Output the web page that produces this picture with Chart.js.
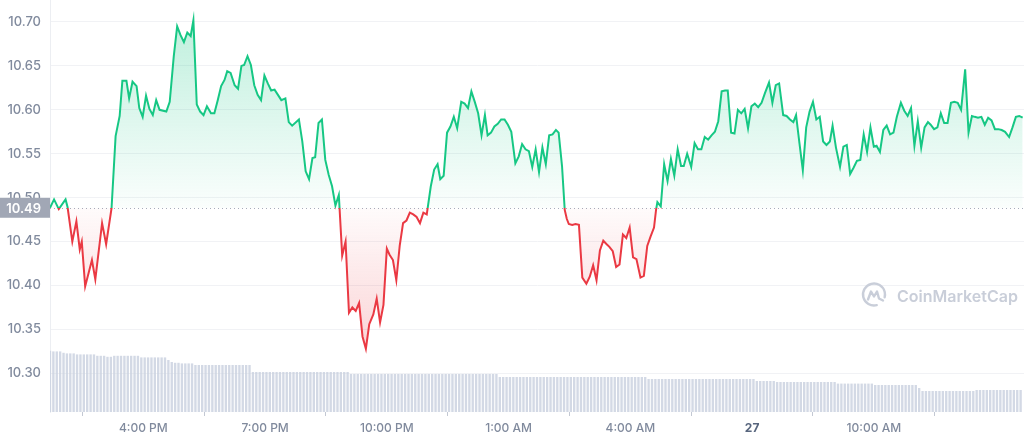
<!DOCTYPE html>
<html>
<head>
<meta charset="utf-8">
<script src="https://cdn.jsdelivr.net/npm/chart.js@4.4.1/dist/chart.umd.min.js"></script>
<style>
  html, body { margin: 0; padding: 0; background: #fff; }
  canvas { display: block; }
</style>
</head>
<body>
<canvas id="chart" width="1024" height="441"></canvas>
<script>
// time = minutes since 00:00 on the 26th (values past 1440 are on the 27th)
const priceTimes = [
  822, 828, 835, 845, 848, 855, 861, 866, 869, 874,
  884, 889, 899, 905, 913, 919, 925, 929, 935, 939,
  944, 950, 954, 959, 964, 969, 974, 979, 984, 994,
  999, 1005, 1010, 1015, 1020, 1025, 1030, 1034, 1039, 1044,
  1049, 1054, 1060, 1065, 1070, 1075, 1080, 1084, 1089, 1095,
  1100, 1105, 1109, 1114, 1119, 1124, 1129, 1134, 1139, 1144,
  1149, 1154, 1159, 1164, 1170, 1175, 1180, 1190, 1195, 1200,
  1205, 1210, 1214, 1219, 1224, 1229, 1234, 1239, 1244, 1249,
  1254, 1259, 1264, 1269, 1274, 1279, 1284, 1289, 1294, 1300,
  1305, 1310, 1315, 1320, 1324, 1329, 1334, 1339, 1344, 1349,
  1354, 1359, 1364, 1369, 1374, 1379, 1385, 1390, 1395, 1399,
  1404, 1409, 1414, 1419, 1424, 1430, 1435, 1440, 1445, 1450,
  1455, 1460, 1465, 1469, 1474, 1479, 1484, 1489, 1494, 1499,
  1504, 1510, 1515, 1520, 1525, 1530, 1535, 1540, 1545, 1550,
  1555, 1560, 1565, 1570, 1574, 1579, 1583, 1586, 1589, 1594,
  1599, 1604, 1609, 1615, 1620, 1625, 1630, 1635, 1640, 1645,
  1649, 1654, 1659, 1664, 1669, 1674, 1679, 1684, 1689, 1695,
  1700, 1705, 1710, 1715, 1718, 1720, 1725, 1730, 1735, 1740,
  1745, 1750, 1755, 1759, 1764, 1770, 1775, 1780, 1785, 1790,
  1795, 1800, 1805, 1810, 1815, 1820, 1824, 1829, 1834, 1839,
  1844, 1849, 1854, 1859, 1864, 1869, 1874, 1879, 1885, 1890,
  1895, 1900, 1906, 1911, 1916, 1921, 1925, 1930, 1935, 1940,
  1945, 1950, 1955, 1960, 1965, 1970, 1975, 1979, 1984, 1990,
  1995, 2000, 2005, 2010, 2015, 2020, 2025, 2030, 2035, 2040,
  2044, 2049, 2054, 2059, 2064, 2069, 2074, 2080, 2085, 2090,
  2095, 2100, 2105, 2110, 2115, 2120, 2124, 2129, 2134, 2139,
  2144, 2149, 2154, 2159, 2164, 2169, 2175, 2180, 2185, 2189,
  2194, 2199, 2204, 2209, 2214, 2219, 2224, 2229, 2234, 2240,
  2245, 2250, 2255, 2260
];

const prices = [
  10.4885, 10.498, 10.487, 10.498, 10.489, 10.450, 10.473, 10.441, 10.450, 10.399,
  10.429, 10.407, 10.471, 10.447, 10.488, 10.570, 10.593, 10.633, 10.633, 10.613,
  10.632, 10.627, 10.602, 10.592, 10.616, 10.601, 10.594, 10.611, 10.600, 10.598,
  10.609, 10.661, 10.695, 10.685, 10.677, 10.688, 10.684, 10.702, 10.606, 10.598,
  10.594, 10.604, 10.596, 10.596, 10.611, 10.627, 10.634, 10.644, 10.642, 10.628,
  10.624, 10.650, 10.651, 10.661, 10.651, 10.628, 10.617, 10.611, 10.639, 10.630,
  10.622, 10.623, 10.617, 10.611, 10.613, 10.586, 10.582, 10.589, 10.564, 10.530,
  10.521, 10.545, 10.546, 10.585, 10.589, 10.543, 10.526, 10.513, 10.491, 10.503,
  10.434, 10.450, 10.369, 10.375, 10.371, 10.380, 10.342, 10.328, 10.356, 10.367,
  10.385, 10.358, 10.378, 10.442, 10.435, 10.429, 10.406, 10.445, 10.471, 10.474,
  10.483, 10.481, 10.478, 10.471, 10.483, 10.481, 10.513, 10.532, 10.538, 10.521,
  10.525, 10.574, 10.581, 10.592, 10.579, 10.609, 10.607, 10.602, 10.621, 10.609,
  10.596, 10.571, 10.594, 10.571, 10.574, 10.581, 10.584, 10.589, 10.589, 10.583,
  10.575, 10.539, 10.547, 10.561, 10.555, 10.553, 10.535, 10.555, 10.529, 10.557,
  10.538, 10.571, 10.572, 10.577, 10.574, 10.536, 10.486, 10.476, 10.470, 10.469,
  10.470, 10.469, 10.409, 10.402, 10.410, 10.423, 10.406, 10.440, 10.451, 10.447,
  10.444, 10.439, 10.421, 10.424, 10.458, 10.454, 10.466, 10.432, 10.430, 10.409,
  10.411, 10.445, 10.456, 10.466, 10.486, 10.495, 10.490, 10.538, 10.519, 10.544,
  10.525, 10.555, 10.536, 10.536, 10.550, 10.535, 10.562, 10.555, 10.555, 10.569,
  10.566, 10.571, 10.575, 10.587, 10.621, 10.622, 10.622, 10.574, 10.573, 10.600,
  10.596, 10.601, 10.579, 10.604, 10.607, 10.603, 10.608, 10.619, 10.631, 10.608,
  10.628, 10.630, 10.594, 10.593, 10.589, 10.586, 10.594, 10.562, 10.531, 10.580,
  10.598, 10.609, 10.589, 10.592, 10.564, 10.560, 10.564, 10.582, 10.557, 10.535,
  10.558, 10.560, 10.527, 10.534, 10.542, 10.543, 10.572, 10.552, 10.580, 10.558,
  10.559, 10.552, 10.577, 10.582, 10.572, 10.574, 10.592, 10.608, 10.599, 10.593,
  10.602, 10.559, 10.587, 10.557, 10.580, 10.586, 10.583, 10.578, 10.580, 10.596,
  10.585, 10.585, 10.608, 10.609, 10.608, 10.600, 10.646, 10.574, 10.593, 10.592,
  10.591, 10.592, 10.583, 10.591, 10.588, 10.578, 10.578, 10.577, 10.575, 10.569,
  10.580, 10.592, 10.593, 10.591
];

const openPrice = 10.4885;

// volume: one bar every 5 minutes from the first time, as [number of bars, volume]
const volumeStart = 822;
const volumeStep = 5;
const volumeRuns = [
  [1, 30.6], [3, 30.3], [1, 29.6], [3, 29.3], [6, 28.8], [3, 28.1], [2, 27.6],
  [8, 28.1], [8, 27.3], [1, 26.0], [1, 25.0], [2, 24.6], [4, 24.3],
  [17, 23.5], [29, 20.0], [44, 19.0], [44, 17.5], [32, 16.5],
  [6, 15.5], [18, 15.0], [11, 14.2], [13, 13.5], [1, 12.0], [16, 10.5], [14, 11.0]
];

const yTicks = [10.30, 10.35, 10.40, 10.45, 10.50, 10.55, 10.60, 10.65, 10.70];
const xTickTimes = [960, 1140, 1320, 1500, 1680, 1860, 2040];
const xTickLabels = ['4:00 PM', '7:00 PM', '10:00 PM', '1:00 AM', '4:00 AM', '27', '10:00 AM'];

const GREEN = '#16c784';
const RED = '#ea3943';
const LABEL = '#808a9d';

const priceData = priceTimes.map((t, i) => ({ x: t, y: prices[i] }));
const volumeData = [];
volumeRuns.forEach(([n, v]) => {
  for (let k = 0; k < n; k++) {
    volumeData.push({ x: volumeStart + volumeData.length * volumeStep, y: v });
  }
});

function baselineStop(chart) {
  const { chartArea, scales } = chart;
  const y = scales.y.getPixelForValue(openPrice);
  return Math.min(1, Math.max(0, (y - chartArea.top) / (chartArea.bottom - chartArea.top)));
}

function lineColor(context) {
  const chart = context.chart;
  if (!chart.chartArea) return GREEN;
  const { ctx, chartArea } = chart;
  const t = baselineStop(chart);
  const g = ctx.createLinearGradient(0, chartArea.top, 0, chartArea.bottom);
  g.addColorStop(0, GREEN);
  g.addColorStop(t, GREEN);
  g.addColorStop(t, RED);
  g.addColorStop(1, RED);
  return g;
}

function fillColor(context) {
  const chart = context.chart;
  if (!chart.chartArea) return 'rgba(22,199,132,0.1)';
  const { ctx, chartArea } = chart;
  const t = baselineStop(chart);
  const g = ctx.createLinearGradient(0, chartArea.top, 0, chartArea.bottom);
  g.addColorStop(0, 'rgba(22,199,132,0.30)');
  g.addColorStop(t, 'rgba(22,199,132,0.02)');
  g.addColorStop(t, 'rgba(234,57,67,0.02)');
  g.addColorStop(Math.min(1, t + 0.35), 'rgba(234,57,67,0.22)');
  g.addColorStop(1, 'rgba(234,57,67,0.22)');
  return g;
}

// dotted line at the opening price
const openLine = {
  id: 'openLine',
  beforeDatasetsDraw(chart) {
    const { ctx, chartArea, scales } = chart;
    const y = Math.round(scales.y.getPixelForValue(openPrice)) + 0.5;
    ctx.save();
    ctx.strokeStyle = '#a7adbb';
    ctx.lineWidth = 1;
    ctx.setLineDash([1, 3]);
    ctx.beginPath();
    ctx.moveTo(chartArea.left, y);
    ctx.lineTo(chartArea.right, y);
    ctx.stroke();
    ctx.restore();
  }
};

// grey price badge on the y axis
const openBadge = {
  id: 'openBadge',
  afterDraw(chart) {
    const { ctx, chartArea, scales } = chart;
    const y = scales.y.getPixelForValue(openPrice);
    ctx.save();
    ctx.fillStyle = '#a1a7b5';
    ctx.fillRect(0, y - 10, chartArea.left, 20);
    ctx.fillStyle = '#ffffff';
    ctx.font = '600 13px Inter';
    ctx.textAlign = 'right';
    ctx.textBaseline = 'middle';
    ctx.fillText(openPrice.toFixed(2), chartArea.left - 9, y + 1);
    ctx.restore();
  }
};

const watermark = {
  id: 'watermark',
  beforeDatasetsDraw(chart) {
    const { ctx } = chart;
    const cx = 874, cy = 294.5;
    ctx.save();
    ctx.strokeStyle = '#c9ced9';
    ctx.fillStyle = '#c9ced9';
    ctx.lineWidth = 2.4;
    ctx.lineCap = 'round';
    ctx.lineJoin = 'round';
    ctx.beginPath();
    ctx.arc(cx, cy, 11, 0.42 * Math.PI, 2.08 * Math.PI);
    ctx.stroke();
    ctx.beginPath();
    ctx.moveTo(cx - 6, cy + 5);
    ctx.lineTo(cx - 3, cy - 3);
    ctx.lineTo(cx, cy + 2);
    ctx.lineTo(cx + 3, cy - 3);
    ctx.lineTo(cx + 5, cy + 4);
    ctx.lineTo(cx + 9, cy + 6);
    ctx.stroke();
    ctx.font = '600 16px Inter';
    ctx.textBaseline = 'alphabetic';
    ctx.fillText('CoinMarketCap', 897, 302);
    ctx.restore();
  }
};

new Chart(document.getElementById('chart'), {
  type: 'line',
  data: {
    datasets: [
      {
        type: 'line',
        data: priceData,
        order: 0,
        borderColor: lineColor,
        backgroundColor: fillColor,
        borderWidth: 2,
        pointRadius: 0,
        tension: 0,
        fill: { target: { value: openPrice } }
      },
      {
        type: 'bar',
        data: volumeData,
        order: 1,
        yAxisID: 'y2',
        backgroundColor: 'rgba(200,207,223,0.8)',
        barPercentage: 0.7,
        categoryPercentage: 1
      }
    ]
  },
  options: {
    responsive: false,
    animation: false,
    layout: { padding: 0, autoPadding: false },
    plugins: {
      legend: { display: false },
      tooltip: { enabled: false }
    },
    scales: {
      x: {
        type: 'linear',
        min: 822,
        max: 2262,
        offset: false,
        afterBuildTicks: (scale) => { scale.ticks = xTickTimes.map(v => ({ value: v })); },
        afterFit: (scale) => {
          scale.height = 29;
          scale.paddingLeft = 0;
          scale.paddingRight = 0;
        },
        grid: { drawOnChartArea: false, drawTicks: true, tickLength: 4, color: '#c3c8d3' },
        border: { display: false },
        ticks: {
          autoSkip: false,
          maxRotation: 0,
          padding: 5,
          callback: (v, i) => xTickLabels[i],
          color: (c) => xTickLabels[c.index] === '27' ? '#58667e' : LABEL,
          font: (c) => ({ family: 'Inter', size: 12, weight: xTickLabels[c.index] === '27' ? '700' : '500' })
        }
      },
      y: {
        min: 10.256,
        max: 10.725,
        afterBuildTicks: (scale) => { scale.ticks = yTicks.map(v => ({ value: v })); },
        afterFit: (scale) => {
          scale.width = 50;
          scale.paddingTop = 0;
          scale.paddingBottom = 0;
        },
        grid: { color: '#f1f2f5', drawTicks: false },
        border: { color: '#eceef2' },
        ticks: {
          padding: 9,
          color: LABEL,
          font: { family: 'Inter', size: 13, weight: '500' },
          callback: (v) => Number(v).toFixed(2)
        }
      },
      y2: {
        display: false,
        min: 0,
        max: 206
      }
    }
  },
  plugins: [openLine, watermark, openBadge]
});
</script>
</body>
</html>
